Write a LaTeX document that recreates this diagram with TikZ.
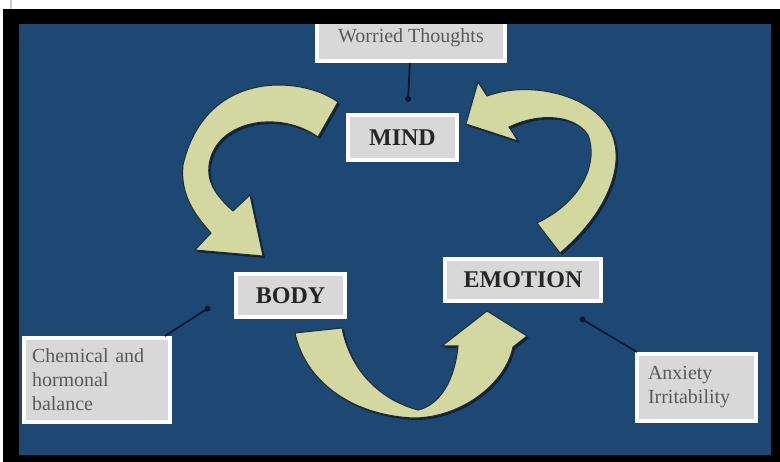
\documentclass[tikz,border=0pt]{standalone}
\usepackage{fontspec}
\setmainfont{Liberation Serif}
\usetikzlibrary{arrows.meta}

\definecolor{bgblue}{RGB}{30,72,116}
\definecolor{boxfill}{RGB}{216,216,216}
\definecolor{leadblue}{RGB}{10,26,50}
\definecolor{arrowfill}{RGB}{210,216,160}
\definecolor{arrowedge}{RGB}{30,44,52}
\definecolor{arrowshadow}{RGB}{14,34,56}

\begin{document}
\begin{tikzpicture}[x=1pt,y=-1pt,
    box/.style={draw=white, line width=4pt, fill=boxfill, inner sep=0pt},
    bigword/.style={box, font=\fontsize{24}{28}\selectfont\bfseries, text=black!85},
    smallword/.style={box, font=\fontsize{20}{24}\selectfont, text=black!65, align=left},
    leadline/.style={draw=leadblue, line width=1.8pt, -{Circle[length=6pt]}},
    bigarrow/.style={fill=arrowfill, draw=arrowedge, line width=1pt,
        preaction={fill=arrowshadow, transform canvas={shift={(2pt,-2pt)}}}}]
    \useasboundingbox (0,0) rectangle (780,462);

    %frame
    \fill[white] (0,0) rectangle (780,462);
    \fill[gray!40] (10,0) rectangle (12,9);
    \fill[black] (3,9) rectangle (780,462);
    \fill[bgblue] (19,24) rectangle (771,455);

    %boxes
    \node[smallword, align=center, minimum width=188, minimum height=46] (worried) at (411,38) {Worried Thoughts};
    \fill[black] (3,9) rectangle (780,24);
    \node[bigword, minimum width=109, minimum height=45] (mind) at (402.5,137.5) {MIND};
    \node[bigword, minimum width=109, minimum height=43] (body) at (290.5,295.5) {BODY};
    \node[bigword, minimum width=156, minimum height=42] (emotion) at (523,280) {EMOTION};
    \node[smallword, inner xsep=8pt, text width=130, minimum height=84] (chem) at (97,380) {Chemical and\\hormonal\\balance};
    \node[smallword, inner xsep=11pt, text width=97, minimum height=67] (anxiety) at (696.5,387.5) {Anxiety\\Irritability};

    %lead lines
    \coordinate (mindpin) at (408,102);
    \coordinate (bodypin) at (210,307);
    \coordinate (emopin) at (580,318);
    \draw[leadline] (worried) -- (mindpin);
    \draw[leadline] (chem) -- (bodypin);
    \draw[leadline] (anxiety) -- (emopin);

    %cycle arrows
    % mind to body
    \path[bigarrow] (338,102) .. controls (300,75) and (205,70) .. (183,165)
        .. controls (180,195) and (195,215) .. (211,233) -- (195,250) -- (263,256) -- (250,195) -- (233,211)
        .. controls (215,195) and (205,180) .. (210,160) .. controls (220,120) and (280,110) .. (318,137) -- cycle;
    % emotion to mind
    \path[bigarrow] (560,253) .. controls (605,215) and (628,165) .. (610,130)
        .. controls (592,95) and (530,80) .. (487,96) -- (478,82) -- (466,124) -- (518,141) -- (509,127)
        .. controls (540,112) and (575,115) .. (588,135) .. controls (598,160) and (585,200) .. (537,223) -- cycle;
    % body to emotion
    \path[bigarrow] (295,333) .. controls (305,380) and (350,415) .. (413,418)
        .. controls (460,418) and (505,385) .. (513,347) -- (527,336) -- (487,311) -- (442,346) -- (458,346)
        .. controls (455,380) and (440,405) .. (418,410) .. controls (380,400) and (350,370) .. (342,328) -- cycle;
\end{tikzpicture}
\end{document}
